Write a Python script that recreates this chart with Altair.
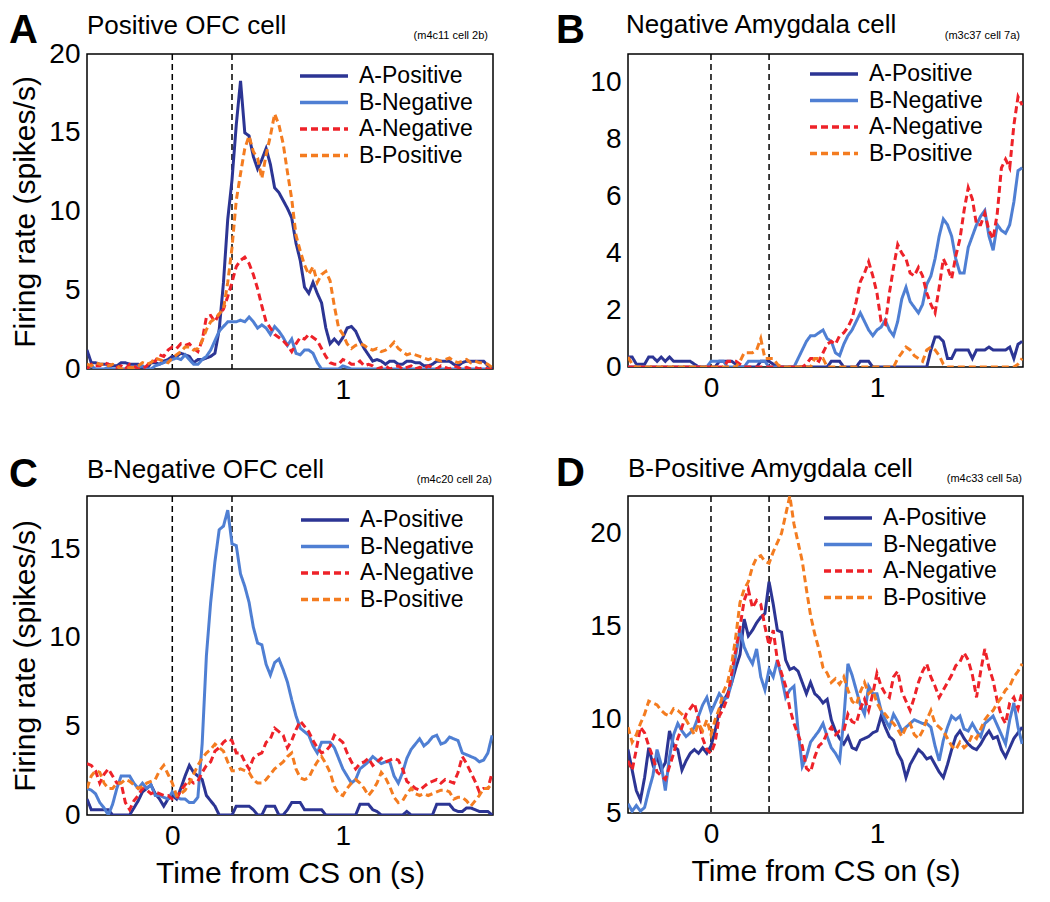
import altair as alt
import pandas as pd

COND = ["A-Positive", "B-Negative", "A-Negative", "B-Positive"]
COLORS = ["#2c3594", "#4f7fd3", "#ee2229", "#f47c20"]
DASHES = [[1, 0], [1, 0], [7, 4], [7, 4]]

N = 96
T0 = -0.5
DT = 0.025
times = [round(T0 + DT * i, 3) for i in range(N)]
cs_lines = [0.0, 0.35]

# ---- Panel A: Positive OFC cell ----
a_ap = [1.2, 0.4, 0.4, 0.3, 0.3, 0.3, 0.2, 0.2, 0.4, 0.4,
        0.3, 0.3, 0.3, 0.1, 0.0, 0.4, 0.4, 0.3, 0.5, 0.6,
        0.8, 0.8, 1.0, 0.9, 0.8, 0.4, 0.6, 0.6, 0.7, 0.8,
        1.0, 2.5, 5.5, 9.5, 12.0, 15.5, 18.3, 15.0, 14.8, 13.5,
        12.7, 13.3, 14.0, 13.0, 11.5, 11.2, 10.7, 10.2, 9.6, 8.0,
        6.9, 5.2, 4.8, 5.5, 4.8, 4.2, 2.6, 1.6, 1.9, 1.6,
        2.0, 2.6, 2.7, 2.4, 1.8, 1.3, 0.9, 0.5, 0.6, 0.5,
        0.3, 0.5, 0.5, 0.3, 0.3, 0.5, 0.5, 0.4, 0.4, 0.2,
        0.2, 0.3, 0.5, 0.5, 0.5, 0.5, 0.3, 0.2, 0.4, 0.5,
        0.5, 0.5, 0.5, 0.5, 0.2, 0.0]
a_bn = [0.0, 0.2, 0.0, 0.0, 0.0, 0.1, 0.0, 0.0, 0.0, 0.0,
        0.0, 0.0, 0.1, 0.2, 0.0, 0.0, 0.2, 0.3, 0.4, 0.5,
        0.6, 0.7, 0.6, 0.9, 0.6, 0.3, 0.3, 0.6, 0.8, 1.2,
        1.8, 2.4, 2.7, 3.0, 3.0, 3.0, 3.1, 3.0, 3.3, 3.0,
        2.6, 2.8, 2.6, 2.2, 2.7, 2.4, 2.0, 1.5, 1.9, 1.0,
        0.9, 1.2, 1.2, 1.0, 0.4, 0.0, 0.0, 0.0, 0.0, 0.0,
        0.2, 0.1, 0.0, 0.0, 0.0, 0.0, 0.0, 0.0, 0.0, 0.0,
        0.0, 0.0, 0.0, 0.0, 0.0, 0.0, 0.0, 0.0, 0.0, 0.0,
        0.0, 0.0, 0.0, 0.0, 0.0, 0.0, 0.0, 0.0, 0.0, 0.0,
        0.0, 0.0, 0.0, 0.0, 0.0, 0.0]
a_an = [0.0, 0.3, 0.2, 0.2, 0.4, 0.3, 0.2, 0.1, 0.2, 0.0,
        0.3, 0.2, 0.0, 0.0, 0.2, 0.5, 0.5, 0.9, 0.8, 1.2,
        1.4, 1.3, 1.6, 1.5, 1.6, 1.3, 1.1, 1.8, 3.3, 3.4,
        3.0, 3.5, 3.8, 4.6, 5.5, 6.5, 6.9, 7.1, 6.7, 6.0,
        5.1, 4.0, 3.0, 2.6, 2.2, 2.0, 1.8, 1.5, 1.1, 1.6,
        2.0, 1.9, 2.2, 2.0, 1.8, 1.3, 0.8, 0.4, 0.3, 0.3,
        0.6, 0.5, 0.3, 0.3, 0.5, 0.2, 0.3, 0.2, 0.0, 0.1,
        0.2, 0.0, 0.1, 0.2, 0.0, 0.1, 0.2, 0.0, 0.1, 0.0,
        0.2, 0.1, 0.0, 0.2, 0.1, 0.0, 0.2, 0.1, 0.0, 0.1,
        0.0, 0.1, 0.0, 0.1, 0.0, 0.0]
a_bp = [0.3, 0.2, 0.4, 0.3, 0.3, 0.2, 0.3, 0.2, 0.0, 0.0,
        0.1, 0.1, 0.2, 0.4, 0.3, 0.4, 0.7, 0.6, 0.5, 0.4,
        0.7, 0.9, 1.1, 1.4, 1.4, 1.2, 1.3, 1.8, 2.5, 3.0,
        3.2, 3.5, 3.8, 5.5, 7.7, 10.7, 12.4, 14.0, 14.8, 13.8,
        13.4, 12.1, 13.6, 14.8, 16.2, 15.5, 14.3, 12.5, 10.8, 8.5,
        7.5, 6.6, 6.0, 6.5, 5.5, 6.0, 6.2, 5.6, 4.0, 2.6,
        2.2, 1.6, 1.3, 1.5, 1.6, 1.5, 1.3, 1.2, 1.3, 1.1,
        1.2, 1.4, 1.7, 1.3, 1.1, 0.9, 1.0, 0.9, 0.8, 0.7,
        0.6, 0.7, 0.6, 0.5, 0.6, 0.7, 0.5, 0.4, 0.5, 0.6,
        0.4, 0.5, 0.4, 0.4, 0.3, 0.1]

# ---- Panel B: Negative Amygdala cell ----
b_ap = [0.35, 0.35, 0.1, 0.1, 0.1, 0.35, 0.35, 0.2, 0.35, 0.2,
        0.35, 0.2, 0.2, 0.2, 0.2, 0.2, 0.1, 0.0, 0.0, 0.0,
        0.0, 0.0, 0.2, 0.2, 0.2, 0.2, 0.1, 0.0, 0.0, 0.0,
        0.0, 0.0, 0.2, 0.2, 0.2, 0.1, 0.0, 0.0, 0.0, 0.0,
        0.0, 0.0, 0.0, 0.0, 0.0, 0.0, 0.0, 0.0, 0.0, 0.2,
        0.2, 0.2, 0.0, 0.0, 0.0, 0.0, 0.2, 0.2, 0.2, 0.0,
        0.0, 0.0, 0.0, 0.0, 0.0, 0.0, 0.0, 0.0, 0.0, 0.0,
        0.0, 0.0, 0.0, 0.6, 1.05, 1.05, 0.9, 0.3, 0.3, 0.6,
        0.6, 0.6, 0.6, 0.3, 0.6, 0.6, 0.6, 0.7, 0.6, 0.6,
        0.6, 0.6, 0.7, 0.3, 0.8, 0.9]
b_bn = [0.0, 0.0, 0.0, 0.0, 0.0, 0.0, 0.0, 0.0, 0.0, 0.0,
        0.0, 0.0, 0.0, 0.0, 0.0, 0.0, 0.0, 0.0, 0.0, 0.0,
        0.2, 0.2, 0.2, 0.2, 0.0, 0.0, 0.0, 0.0, 0.0, 0.2,
        0.2, 0.2, 0.2, 0.2, 0.0, 0.0, 0.0, 0.0, 0.0, 0.0,
        0.0, 0.3, 0.6, 0.9, 1.1, 1.1, 1.2, 1.3, 1.0, 0.9,
        0.5, 0.4, 0.8, 1.1, 1.3, 1.6, 1.9, 1.6, 1.3, 1.1,
        1.3, 1.4, 1.65, 1.3, 1.1, 1.6, 2.4, 2.8, 2.3, 2.1,
        1.9, 2.2, 2.9, 3.2, 3.8, 4.6, 5.2, 5.0, 4.6, 3.8,
        3.3, 3.3, 4.2, 4.6, 5.0, 5.3, 5.5, 4.6, 4.1, 5.0,
        4.8, 4.7, 5.0, 5.8, 6.9, 7.0]
b_an = [0.0, 0.0, 0.0, 0.0, 0.0, 0.0, 0.0, 0.0, 0.0, 0.0,
        0.0, 0.0, 0.0, 0.0, 0.0, 0.0, 0.0, 0.0, 0.0, 0.0,
        0.0, 0.0, 0.0, 0.0, 0.2, 0.2, 0.2, 0.1, 0.0, 0.0,
        0.0, 0.0, 0.0, 0.0, 0.0, 0.0, 0.0, 0.0, 0.0, 0.0,
        0.0, 0.0, 0.0, 0.1, 0.3, 0.3, 0.2, 0.5, 0.8, 0.9,
        0.8, 1.1, 1.2, 1.4, 1.7, 2.3, 3.0, 3.3, 3.7, 3.2,
        2.6, 1.6, 1.5, 2.6, 3.5, 4.3, 4.0, 3.8, 3.3, 3.2,
        3.5, 3.2, 2.6, 2.2, 1.9, 2.8, 3.8, 3.5, 3.1, 3.9,
        4.5, 5.5, 6.3, 5.9, 5.0, 5.0, 5.4, 4.8, 4.5, 5.4,
        7.0, 7.3, 7.0, 8.5, 9.5, 9.2]
b_bp = [0.35, 0.1, 0.0, 0.0, 0.0, 0.0, 0.0, 0.0, 0.0, 0.0,
        0.0, 0.0, 0.0, 0.0, 0.0, 0.0, 0.0, 0.0, 0.0, 0.0,
        0.0, 0.0, 0.0, 0.0, 0.0, 0.0, 0.0, 0.2, 0.5, 0.5,
        0.5, 0.6, 1.0, 0.3, 0.3, 0.3, 0.1, 0.0, 0.0, 0.0,
        0.0, 0.0, 0.0, 0.0, 0.0, 0.3, 0.3, 0.3, 0.0, 0.0,
        0.0, 0.0, 0.0, 0.0, 0.0, 0.0, 0.0, 0.0, 0.0, 0.0,
        0.0, 0.0, 0.0, 0.0, 0.0, 0.3, 0.5, 0.7, 0.6, 0.4,
        0.3, 0.2, 0.6, 0.7, 0.6, 0.4, 0.1, 0.0, 0.0, 0.0,
        0.0, 0.0, 0.0, 0.0, 0.0, 0.0, 0.0, 0.0, 0.0, 0.0,
        0.0, 0.0, 0.0, 0.0, 0.1, 0.3]

# ---- Panel C: B-Negative OFC cell ----
c_ap = [0.9, 0.3, 0.3, 0.3, 0.3, 0.3, 0.0, 0.0, 0.0, 0.0,
        0.0, 0.4, 0.8, 1.3, 1.5, 1.7, 1.2, 0.9, 0.5, 0.9,
        1.1, 0.9, 1.5, 2.2, 2.8, 2.4, 2.2, 2.0, 1.1, 0.8,
        0.5, 0.0, 0.0, 0.0, 0.0, 0.5, 0.5, 0.5, 0.5, 0.3,
        0.0, 0.0, 0.5, 0.5, 0.5, 0.0, 0.0, 0.3, 0.7, 0.7,
        0.7, 0.3, 0.3, 0.3, 0.3, 0.3, 0.0, 0.0, 0.0, 0.0,
        0.0, 0.0, 0.0, 0.0, 0.6, 0.6, 0.6, 0.3, 0.2, 0.0,
        0.0, 0.0, 0.0, 0.0, 0.0, 0.2, 0.0, 0.0, 0.0, 0.0,
        0.0, 0.0, 0.6, 0.6, 0.6, 0.6, 0.3, 0.2, 0.2, 0.4,
        0.4, 0.3, 0.2, 0.2, 0.2, 0.0]
c_bn = [1.5, 1.4, 1.2, 0.7, 0.4, 0.0, 0.6, 1.5, 2.2, 2.2,
        2.2, 1.8, 1.5, 1.8, 1.5, 1.7, 1.1, 1.1, 1.0, 0.9,
        1.3, 1.0, 0.9, 0.9, 0.7, 0.7, 1.0, 4.0, 9.0, 12.0,
        14.3, 16.1, 16.3, 17.2, 15.3, 15.2, 13.6, 12.9, 12.0, 10.6,
        9.7, 9.6, 8.5, 7.9, 8.6, 8.8, 8.2, 7.5, 6.5, 5.6,
        4.9, 4.7, 4.5, 3.9, 3.5, 4.1, 4.1, 4.1, 3.8, 3.2,
        2.6, 2.2, 1.8, 2.0, 2.6, 2.8, 3.0, 3.3, 3.1, 2.9,
        3.0, 3.0, 2.2, 1.8, 2.4, 3.2, 3.7, 4.0, 4.3, 3.9,
        4.1, 4.4, 4.5, 4.0, 4.1, 4.4, 4.3, 4.2, 3.5, 3.4,
        3.3, 3.2, 3.0, 3.1, 3.5, 4.5]
c_an = [2.9, 2.8, 2.5, 1.8, 2.3, 2.6, 2.2, 1.8, 1.8, 0.7,
        0.3, 0.8, 1.1, 1.5, 1.4, 1.2, 1.3, 1.2, 1.1, 1.1,
        0.9, 0.9, 1.4, 1.7, 2.0, 1.8, 1.9, 2.4, 2.8, 3.0,
        3.6, 3.8, 4.1, 4.3, 4.2, 3.5, 3.5, 3.0, 2.6, 3.2,
        3.4, 3.5, 4.1, 4.3, 4.9, 4.7, 4.5, 3.8, 4.2, 4.8,
        5.3, 5.0, 4.7, 4.2, 3.8, 3.5, 3.6, 3.9, 4.5, 4.3,
        4.1, 3.5, 3.0, 2.6, 2.9, 3.0, 3.2, 2.8, 3.0, 3.2,
        3.0, 3.1, 3.2, 3.1, 2.6, 1.9, 1.7, 1.5, 1.4, 1.6,
        1.8, 1.9, 2.0, 1.8, 2.0, 1.9, 1.8, 2.4, 3.3, 2.9,
        2.4, 1.9, 1.3, 1.5, 1.5, 2.4]
c_bp = [1.5, 2.2, 2.5, 2.4, 1.8, 1.5, 1.5, 1.8, 1.8, 2.0,
        1.9, 1.7, 1.5, 1.6, 1.8, 1.9, 2.0, 2.5, 2.8, 2.3,
        1.8, 1.1, 1.2, 1.4, 1.8, 2.3, 2.8, 3.2, 3.5, 3.7,
        4.0, 3.8, 3.6, 3.0, 2.5, 2.5, 2.6, 2.5, 2.4, 2.0,
        1.8, 1.8, 2.0, 2.3, 2.6, 2.8, 3.0, 3.3, 3.5, 2.6,
        2.1, 2.0, 2.1, 2.6, 3.0, 3.3, 2.9, 2.4, 1.6, 1.2,
        1.1, 1.5, 1.8, 2.0, 1.8, 1.5, 1.1, 1.4, 1.8, 2.4,
        2.1, 1.6, 1.0, 0.7, 0.8, 1.2, 1.5, 1.2, 1.1, 1.2,
        1.1, 1.2, 1.3, 1.4, 1.4, 1.3, 0.9, 1.0, 1.0, 0.8,
        0.5, 0.8, 1.1, 1.5, 1.5, 1.8]

# ---- Panel D: B-Positive Amygdala cell ----
d_ap = [8.4, 7.3, 6.2, 5.7, 6.9, 8.5, 7.6, 8.0, 7.3, 7.7,
        9.4, 8.6, 8.4, 7.3, 7.8, 8.2, 8.4, 8.2, 8.5, 8.2,
        8.6, 9.4, 10.5, 11.0, 11.4, 12.0, 12.8, 13.5, 15.4, 14.5,
        14.8, 15.2, 15.5, 15.7, 17.4, 16.2, 14.8, 14.7, 13.2, 12.7,
        12.8, 12.6, 12.0, 11.4, 12.0, 11.4, 11.2, 10.9, 11.1, 10.0,
        9.4, 9.0, 8.7, 9.1, 8.5, 8.4, 8.9, 9.0, 9.1, 9.3,
        9.4, 10.2, 9.6, 9.1, 8.9, 8.2, 7.8, 6.9, 7.6, 8.0,
        8.4, 8.2, 7.9, 8.0, 7.6, 7.2, 6.9, 7.6, 8.4, 9.1,
        9.4, 9.0, 8.7, 8.5, 8.4, 8.7, 9.1, 9.4, 9.0, 9.1,
        8.4, 8.0, 8.5, 9.0, 9.3, 9.6]
d_bn = [5.5, 5.1, 5.4, 5.1, 5.3, 6.2, 7.0, 8.4, 7.6, 6.2,
        8.0, 9.2, 9.8, 9.4, 9.1, 9.3, 9.6, 10.2, 10.8, 11.2,
        10.4, 10.9, 11.4, 11.1, 11.2, 12.0, 13.5, 14.8, 13.9, 13.4,
        13.0, 13.8, 12.3, 11.6, 12.7, 12.3, 13.2, 12.3, 11.2, 11.6,
        11.8, 9.4, 7.5, 8.0, 8.8, 9.1, 9.4, 9.8, 9.1, 8.5,
        8.2, 7.8, 10.0, 13.0, 12.4, 11.6, 10.8, 10.3, 11.8, 11.4,
        11.4, 10.5, 10.0, 9.6, 10.3, 9.9, 9.4, 9.6, 9.8, 10.0,
        9.9, 9.8, 9.8, 9.6, 8.6, 7.8, 8.9, 9.6, 10.2, 10.0,
        10.2, 9.5, 9.4, 9.8, 9.4, 9.1, 9.8, 10.0, 10.2, 9.7,
        9.2, 8.7, 10.0, 10.9, 9.6, 8.7]
d_an = [7.8, 7.3, 8.4, 9.6, 9.3, 8.6, 8.0, 7.2, 7.0, 6.8,
        7.5, 8.2, 9.0, 9.6, 10.3, 10.6, 10.9, 10.0, 9.0, 8.4,
        8.2, 8.8, 10.2, 10.6, 11.2, 12.5, 13.8, 15.0, 16.4, 17.0,
        16.0, 16.4, 16.2, 15.0, 14.0, 14.8, 13.2, 12.5, 11.8, 10.6,
        9.8, 9.2, 8.6, 7.4, 7.2, 8.0, 8.6, 8.8, 9.3, 9.6,
        9.2, 9.4, 9.4, 10.3, 9.9, 9.8, 10.6, 11.1, 10.5, 11.4,
        12.5, 11.8, 11.4, 11.2, 12.3, 12.6, 11.5, 11.0, 10.5, 11.2,
        12.0, 12.6, 13.0, 12.3, 11.8, 11.2, 11.6, 12.0, 12.4, 12.9,
        13.1, 13.6, 13.2, 12.4, 11.2, 12.6, 13.8, 12.8, 12.1, 11.0,
        10.2, 9.8, 10.9, 11.2, 10.6, 11.5]
d_bp = [9.6, 8.8, 9.2, 9.8, 10.3, 11.0, 10.9, 10.8, 10.5, 10.3,
        10.2, 10.6, 10.5, 10.3, 10.0, 9.6, 9.2, 9.8, 9.4, 10.0,
        9.2, 10.0, 10.6, 11.5, 12.0, 13.0, 14.5, 16.3, 17.0, 17.4,
        18.2, 18.7, 18.8, 18.5, 18.4, 19.0, 19.5, 20.0, 21.0, 22.0,
        20.5, 19.5, 18.5, 17.0, 15.6, 14.6, 13.8, 12.8, 12.5, 12.0,
        12.2, 11.9, 12.3, 11.6, 11.0, 10.8, 11.5, 12.0, 11.4, 11.6,
        10.9, 10.5, 10.3, 10.0, 9.8, 9.5, 9.1, 9.6, 9.8, 9.2,
        9.0, 9.4, 10.0, 10.5, 9.8, 9.6, 9.4, 9.0, 8.6, 8.4,
        8.8, 8.5, 8.7, 9.2, 9.0, 9.5, 10.0, 10.3, 10.5, 10.9,
        11.2, 11.6, 11.8, 12.3, 12.6, 13.0]

FONT = "Liberation Sans"
Y_TITLE = "Firing rate (spikes/s)"
X_TITLE = "Time from CS on (s)"


def panel(series, letter, title, note, ydom, yticks, show_ytitle, show_xtitle,
          w, h, leg_x, leg_y, letter_pos, title_pos, note_pos):
    rows = []
    for name, vals in zip(COND, series):
        for t, v in zip(times, vals):
            rows.append({"t": t, "v": v, "cond": name})
    df = pd.DataFrame(rows)

    x_axis = alt.Axis(values=[0, 1], format="d", title=X_TITLE if show_xtitle else None)
    y_axis = alt.Axis(values=yticks, format="d", title=Y_TITLE if show_ytitle else None)
    xs = alt.Scale(domain=[-0.5, 1.88], nice=False, zero=False)
    ys = alt.Scale(domain=ydom, nice=False, zero=False)

    # line symbol wider than the nominal symbol box, so rows stay compact
    leg = alt.Legend(orient="none", legendX=leg_x, legendY=leg_y, title=None,
                     symbolType="M-2.4,0L2.4,0", symbolSize=400, symbolStrokeWidth=3.5,
                     symbolFillColor="transparent",
                     labelFont=FONT, labelFontSize=23, labelColor="black",
                     labelOffset=23, rowPadding=2.5, padding=0, labelLimit=400)

    lines = alt.Chart(df).mark_line(strokeWidth=3, clip=True).encode(
        x=alt.X("t:Q", scale=xs, axis=x_axis),
        y=alt.Y("v:Q", scale=ys, axis=y_axis),
        color=alt.Color("cond:N", scale=alt.Scale(domain=COND, range=COLORS), legend=leg),
        strokeDash=alt.StrokeDash("cond:N", scale=alt.Scale(domain=COND, range=DASHES), legend=leg),
    )
    rules = alt.Chart(pd.DataFrame({"t": cs_lines})).mark_rule(
        color="black", strokeDash=[6, 4], strokeWidth=1.5
    ).encode(x=alt.X("t:Q", scale=xs))

    def label(text, pos, size, weight, align):
        return alt.Chart(pd.DataFrame({"s": [text]})).mark_text(
            align=align, baseline="alphabetic", fontSize=size, fontWeight=weight,
            font=FONT, color="black"
        ).encode(x=alt.value(pos[0]), y=alt.value(pos[1]), text="s:N")

    layers = [rules, lines,
              label(letter, letter_pos, 40, "bold", "left"),
              label(title, title_pos, 26, "normal", "left"),
              label(note, note_pos, 11, "normal", "right")]
    return alt.layer(*layers).properties(width=w, height=h)


pA = panel([a_ap, a_bn, a_an, a_bp], "A", "Positive OFC cell", "(m4c11 cell 2b)",
           [0, 20], [0, 5, 10, 15, 20], True, False, 406, 315, 225, 10,
           (-78, -11), (0, -20), (401, -15))
pB = panel([b_ap, b_bn, b_an, b_bp], "B", "Negative Amygdala cell", "(m3c37 cell 7a)",
           [0, 11], [0, 2, 4, 6, 8, 10], False, False, 395, 313, 194, 8,
           (-72, -11), (-2, -21), (392, -15))
pC = panel([c_ap, c_bn, c_an, c_bp], "C", "B-Negative OFC cell", "(m4c20 cell 2a)",
           [0, 18], [0, 5, 10, 15], True, True, 406, 319, 226, 12,
           (-78, -9), (0, -18), (405, -13))
pD = panel([d_ap, d_bn, d_an, d_bp], "D", "B-Positive Amygdala cell", "(m4c33 cell 5a)",
           [5, 22], [5, 10, 15, 20], False, True, 395, 317, 208, 10,
           (-72, -10), (0, -19), (394, -14))

res = dict(color="independent", strokeDash="independent")
row1 = alt.hconcat(pA, pB, spacing=61).resolve_scale(**res).resolve_legend(**res)
row2 = alt.hconcat(pC, pD, spacing=61).resolve_scale(**res).resolve_legend(**res)

chart = alt.vconcat(row1, row2, spacing=48).resolve_scale(**res).resolve_legend(**res).properties(
    padding={"left": 0, "top": 2, "right": 0, "bottom": 0}
).configure_view(
    stroke="black", strokeWidth=1.5
).configure_axis(
    grid=False, domain=False, ticks=False,
    labelFont=FONT, labelFontSize=28, labelColor="black", labelPadding=7,
    titleFont=FONT, titleFontSize=30, titleFontWeight="normal", titleColor="black",
    titlePadding=8,
)

chart.save("out.html", embed_options={"renderer": "svg", "actions": False})
